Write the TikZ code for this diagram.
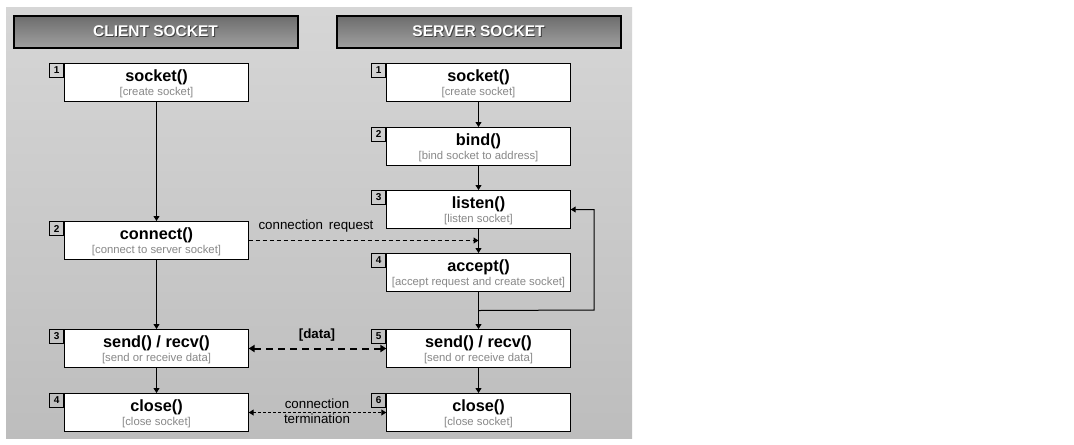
\documentclass[tikz,border=0pt]{standalone}
\usepackage{fontspec}
\setmainfont{Liberation Sans}
\usetikzlibrary{arrows.meta,calc}
\definecolor{panelTop}{HTML}{D6D6D6}
\definecolor{panelBot}{HTML}{BDBDBD}
\definecolor{hdrTop}{HTML}{6C6C6C}
\definecolor{hdrBot}{HTML}{A0A0A0}
\definecolor{subgray}{HTML}{888888}
\newcommand\sockbox[6]{%
  \node[sbox, anchor=north] (#1) at (#2,#3) {};
  \node[numtag, anchor=north east] (#1n) at (#1.north west) {#4};
  \node[ttl] (#1t) at ([yshift=-10.4pt]#1.north) {#5};
  \node[subt] (#1s) at ([yshift=-21.8pt]#1.north) {#6};
}
\newcommand\hdrbox[3]{%
  \node[hdr] (#1) at (#2,31.5) {};
  \node[hdrtxt, text=black!75] (#1sh) at ([xshift=0.7pt,yshift=-0.7pt]#1.center) {#3};
  \node[hdrtxt, text=white] (#1t) at (#1.center) {#3};
}
\begin{document}
\begin{tikzpicture}[x=0.75pt,y=-0.75pt,
  sbox/.style={draw=black, fill=white, line width=0.75pt, minimum width=137.6pt, minimum height=28.5pt, inner sep=0pt},
  numtag/.style={draw=black, line width=0.75pt, minimum size=10.5pt, inner sep=0pt, font=\fontsize{7.5}{8}\selectfont\bfseries},
  ttl/.style={inner sep=0pt, font=\fontsize{12.2}{14}\selectfont\bfseries},
  subt/.style={inner sep=0pt, text=subgray, font=\fontsize{8.5}{10}\selectfont},
  hdr/.style={draw=black, line width=1.5pt, top color=hdrTop, bottom color=hdrBot, minimum width=213pt, minimum height=24pt, inner sep=0pt},
  hdrtxt/.style={inner sep=0pt, font=\fontsize{11.6}{13}\selectfont\bfseries},
  lbl/.style={inner sep=0pt, font=\fontsize{10}{12}\selectfont},
  arr/.style={line width=0.75pt, -{Triangle[length=3.75pt,width=4.5pt]}},
  req/.style={line width=0.75pt, dash pattern=on 3pt off 2.25pt, -{Triangle[length=3.75pt,width=4.5pt]}},
  datarr/.style={line width=1.5pt, dash pattern=on 5.25pt off 3.75pt, {Triangle[length=4.5pt,width=5.5pt]}-{Triangle[length=4.5pt,width=5.5pt]}},
  term/.style={line width=0.75pt, dash pattern=on 2.25pt off 1.5pt, {Triangle[length=3.75pt,width=4.5pt]}-{Triangle[length=3.75pt,width=4.5pt]}}
]
\useasboundingbox (0,0) rectangle (1074,444);
\fill[white] (0,0) rectangle (1074,444);
\shade[top color=panelTop, bottom color=panelBot] (6,7) rectangle (632,438);

\hdrbox{hc}{155.5}{CLIENT SOCKET}
\hdrbox{hs}{478.5}{SERVER SOCKET}

% client column
\sockbox{c1}{156.5}{63}{1}{socket()}{[create socket]}
\sockbox{c2}{156.5}{221}{2}{connect()}{[connect to server socket]}
\sockbox{c3}{156.5}{329}{3}{send() / recv()}{[send or receive data]}
\sockbox{c4}{156.5}{393}{4}{close()}{[close socket]}

% server column
\sockbox{s1}{478.5}{63}{1}{socket()}{[create socket]}
\sockbox{s2}{478.5}{127}{2}{bind()}{[bind socket to address]}
\sockbox{s3}{478.5}{190}{3}{listen()}{[listen socket]}
\sockbox{s4}{478.5}{253}{4}{accept()}{[accept request and create socket]}
\sockbox{s5}{478.5}{329}{5}{send() / recv()}{[send or receive data]}
\sockbox{s6}{478.5}{393}{6}{close()}{[close socket]}

% client flow
\draw[arr] (c1.south) -- (c2.north);
\draw[arr] (c2.south) -- (c3.north);
\draw[arr] (c3.south) -- (c4.north);

% server flow
\draw[arr] (s1.south) -- (s2.north);
\draw[arr] (s2.south) -- (s3.north);
\draw[arr] (s3.south) -- (s4.north);
\draw[arr] (s4.south) -- (s5.north);
\draw[arr] (s5.south) -- (s6.north);

% loop back to listen
\coordinate (lp) at ($(s4.south)!0.5!(s5.north)$);
\coordinate (lpr) at (594,310);
\draw[arr] (lp) -- (lpr) |- (s3.east);

% connection request
\coordinate (reqend) at (c2.east -| s4.north);
\draw[req] (c2.east) -- (reqend);
\node[lbl] (reql) at (316,226) {connection\, request};

% data
\draw[datarr] (c3.east) -- (s5.west);
\node[lbl, font=\fontsize{10}{12}\selectfont\bfseries] (datal) at (317,335) {[data]};

% termination
\draw[term] (c4.east) -- (s6.west);
\node[lbl] (terml1) at (317,404) {connection};
\node[lbl] (terml2) at (317,419) {termination};
\end{tikzpicture}
\end{document}
